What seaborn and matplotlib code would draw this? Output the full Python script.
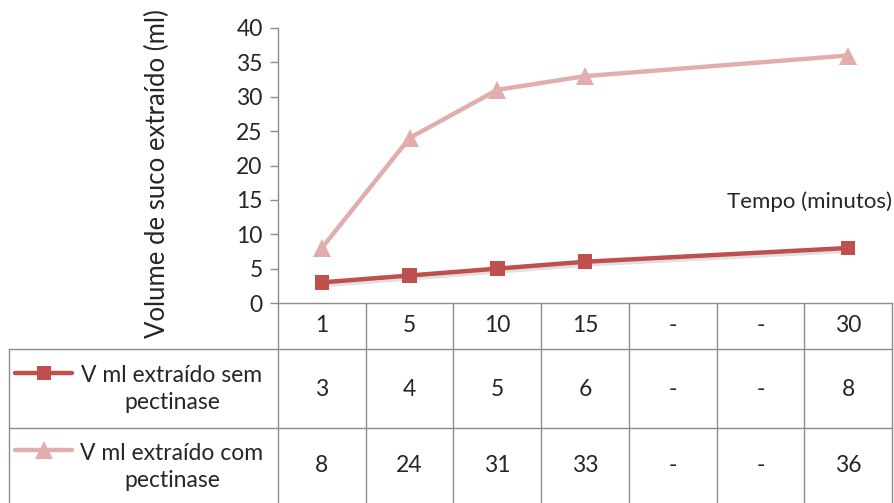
import matplotlib.pyplot as plt
import matplotlib.transforms as mtransforms
from matplotlib.lines import Line2D
import matplotlib.patheffects as pe
import numpy as np
import pandas as pd
import seaborn as sns

# data
categories = ['1', '5', '10', '15', '-', '-', '30']
sem_pectinase = [3, 4, 5, 6, None, None, 8]
com_pectinase = [8, 24, 31, 33, None, None, 36]
series_names = ['V ml extraído sem\npectinase', 'V ml extraído com\npectinase']

dark_red = '#C0504D'
light_red = '#E2AEAD'
grid_grey = '#8C8C8C'
text_col = '#262626'
fs = 16.5

sns.set_style('white')
plt.rcParams['font.family'] = ['Lato', 'DejaVu Sans']
plt.rcParams['font.size'] = fs

W, H = 894, 503
fig = plt.figure(figsize=(W / 100, H / 100), dpi=100)

def fy(py):
    return 1 - py / H

ax = fig.add_axes([278 / W, fy(303), (892 - 278) / W, (303 - 28) / H])

rows = []
for i, (a, b) in enumerate(zip(sem_pectinase, com_pectinase)):
    if a is not None:
        rows.append({'pos': i, 'val': a, 'serie': 'sem'})
    if b is not None:
        rows.append({'pos': i, 'val': b, 'serie': 'com'})
df = pd.DataFrame(rows)

sns.lineplot(data=df[df.serie == 'com'], x='pos', y='val', ax=ax, color=light_red,
             lw=3.2, marker='^', markersize=13, markeredgewidth=0, legend=False)
sns.lineplot(data=df[df.serie == 'sem'], x='pos', y='val', ax=ax, color=dark_red,
             lw=3.2, marker='s', markersize=10.5, markeredgewidth=0, legend=False,
             path_effects=[pe.SimpleLineShadow(offset=(1, -2), alpha=0.12), pe.Normal()])

ax.set_xlim(-0.5, len(categories) - 0.5)
ax.set_ylim(0, 40)
ax.set_yticks(range(0, 41, 5))
ax.set_xticks([])
ax.set_xlabel('')
ax.set_ylabel('')
for s in ['top', 'right', 'bottom']:
    ax.spines[s].set_visible(False)
ax.spines['left'].set_color(grid_grey)
ax.spines['left'].set_linewidth(1)
ax.tick_params(axis='y', left=True, length=6, width=1, color=grid_grey, pad=5,
               labelsize=fs, labelcolor=text_col)

ax.text(1.0, 14.7, 'Tempo (minutos)', transform=ax.get_yaxis_transform(),
        ha='right', va='center', fontsize=fs - 0.5, color=text_col)

fig.text(157 / W, fy(174), 'Volume de suco extraído (ml)', rotation=90,
         ha='center', va='center', fontsize=18.5, color=text_col)

# data table under the plot
tr = mtransforms.blended_transform_factory(ax.transData, fig.transFigure)
x_left_fig = 9 / W
n = len(categories)
bounds = np.arange(n + 1) - 0.5
row_lines = [303, 349, 428]
lw_t = 1.0

fig.add_artist(Line2D([-0.5, n - 0.5], [fy(303), fy(303)], transform=tr, color=grid_grey, lw=lw_t))
for py in row_lines[1:]:
    fig.add_artist(Line2D([x_left_fig, 892 / W], [fy(py), fy(py)], transform=fig.transFigure,
                          color=grid_grey, lw=lw_t))
for b in bounds:
    fig.add_artist(Line2D([b, b], [fy(303), fy(503)], transform=tr, color=grid_grey, lw=lw_t))
fig.add_artist(Line2D([x_left_fig, x_left_fig], [fy(349), fy(503)], transform=fig.transFigure,
                      color=grid_grey, lw=lw_t))

row_centers = [326, 389, 466]
for i, c in enumerate(categories):
    fig.text(i, fy(row_centers[0]), c, transform=tr, ha='center', va='center',
             fontsize=fs, color=text_col)
for r, vals in enumerate([sem_pectinase, com_pectinase]):
    for i, v in enumerate(vals):
        fig.text(i, fy(row_centers[r + 1]), '-' if v is None else str(v), transform=tr,
                 ha='center', va='center', fontsize=fs, color=text_col)

# legend keys inside the table
key_rows = [(373, dark_red, 's', 10.5), (450, light_red, '^', 13)]
for (py, col, mk, ms), name, cy in zip(key_rows, series_names, [389, 467]):
    fig.add_artist(Line2D([15 / W, 72 / W], [fy(py), fy(py)], transform=fig.transFigure,
                          color=col, lw=3.2))
    fig.add_artist(Line2D([44 / W], [fy(py)], transform=fig.transFigure, color=col,
                          marker=mk, markersize=ms, markeredgewidth=0))
    fig.text(172 / W, fy(cy), name, ha='center', va='center', fontsize=fs,
             color=text_col, linespacing=1.4)

fig.savefig('out.png', dpi=100)
